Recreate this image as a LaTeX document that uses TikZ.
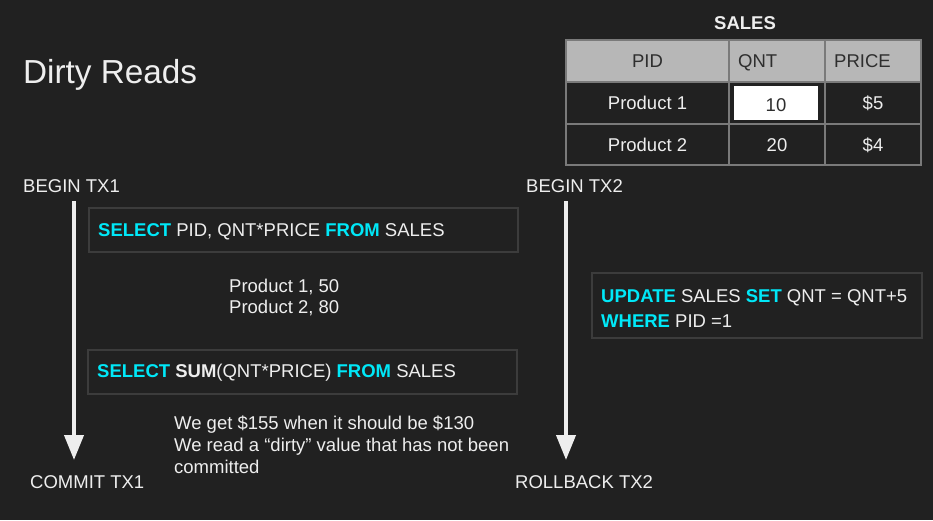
\documentclass[tikz,border=0pt]{standalone}
\usepackage{fontspec}
\setmainfont{Liberation Sans}
\usetikzlibrary{arrows.meta}
\definecolor{bg}{HTML}{212121}
\definecolor{fg}{HTML}{EEEEEE}
\definecolor{kw}{HTML}{00E8F8}
\definecolor{boxline}{HTML}{3C3C3C}
\definecolor{hdr}{HTML}{B7B7B7}
\definecolor{tline}{HTML}{7A7A7A}
\definecolor{dark}{HTML}{2E2E2E}
\newcommand{\kwd}[1]{\textcolor{kw}{\textbf{#1}}}
\tikzset{
  txt/.style={text=fg, font=\fontsize{18.5}{21}\selectfont, inner sep=0pt},
  ltxt/.style={txt, anchor=west},
  cell/.style={txt, text height=13.3pt, text depth=0pt},
  sqlbox/.style={draw=boxline, line width=1.2pt},
  tl/.style={draw=fg, line width=4pt, -{Triangle[width=19pt,length=25pt]}},
  tcell/.style={draw=tline, line width=1.2pt},
}
\begin{document}
\begin{tikzpicture}[x=1pt,y=-1pt]
\fill[bg] (0,0) rectangle (933,520);
\useasboundingbox (0,0) rectangle (933,520);

% title
\node[ltxt, font=\fontsize{33.3}{36}\selectfont] (title) at (23,75) {Dirty Reads};

% table
\node[txt, font=\fontsize{18.5}{21}\selectfont\bfseries] (sales) at (745,23) {SALES};
\fill[hdr] (566,40) rectangle (921,82);
\draw[tcell] (566,40) rectangle (921,165);
\draw[tcell] (566,82) -- (921,82);
\draw[tcell] (566,124) -- (921,124);
\draw[tcell] (729,40) -- (729,165);
\draw[tcell] (825,40) -- (825,165);
\fill[white] (734,86) rectangle (818,120);
\node[cell, text=dark] (hpid) at (647.5,61) {PID};
\node[cell, anchor=west, text=dark] (hqnt) at (738,61) {QNT};
\node[cell, anchor=west, text=dark] (hprice) at (834,61) {PRICE};
\node[cell] (p1) at (647.5,103) {Product 1};
\node[cell, text=dark] (q1) at (776,105) {10};
\node[cell] (pr1) at (873,103) {\$5};
\node[cell] (p2) at (647.5,145) {Product 2};
\node[cell] (q2) at (777,145) {20};
\node[cell] (pr2) at (873,145) {\$4};

% transaction 1
\node[ltxt] (b1) at (23,186) {BEGIN TX1};
\node[ltxt] (c1) at (30,482) {COMMIT TX1};
\coordinate (a1s) at (74,201);
\coordinate (a1e) at (74,460);
\draw[tl] (a1s) -- (a1e);

% transaction 2
\node[ltxt] (b2) at (526,186) {BEGIN TX2};
\node[ltxt] (c2) at (515,482) {ROLLBACK TX2};
\coordinate (a2s) at (566,201);
\coordinate (a2e) at (566,460);
\draw[tl] (a2s) -- (a2e);

% sql boxes
\draw[sqlbox] (89,208) rectangle (518,252);
\node[ltxt] (q1t) at (98,232) {\kwd{SELECT} PID, QNT*PRICE \kwd{FROM} SALES};

\node[ltxt, align=left] (res) at (229,297) {Product 1, 50\\Product 2, 80};

\draw[sqlbox] (88,350) rectangle (517,394);
\node[ltxt] (q2t) at (97,373) {\kwd{SELECT} \textbf{SUM}(QNT*PRICE) \kwd{FROM} SALES};

\node[ltxt, align=left, font=\fontsize{18.5}{22}\selectfont] (note) at (174,445) {We get \$155 when it should be \$130\\We read a “dirty” value that has not been\\committed};

\draw[sqlbox] (592,273) rectangle (922,338);
\node[ltxt, align=left, font=\fontsize{18.5}{25}\selectfont] (upd) at (601,308.5) {\kwd{UPDATE} SALES \kwd{SET} QNT = QNT+5\\\kwd{WHERE} PID =1};
\end{tikzpicture}
\end{document}
